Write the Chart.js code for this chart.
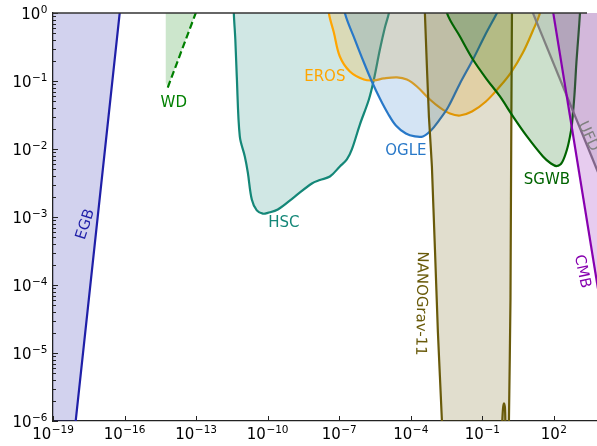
<!DOCTYPE html>
<html>
<head>
<meta charset="utf-8">
<script src="https://cdn.jsdelivr.net/npm/chart.js@4.4.0/dist/chart.umd.min.js"></script>
<style>
html, body { margin: 0; padding: 0; background: #fff; overflow: hidden; }
</style>
</head>
<body>
<canvas id="pbh" width="597" height="446"></canvas>
<script>
// axis ticks (PBH mass on x, fraction f on y); labels are powers of ten
const xTicks = [1e-19, 1e-16, 1e-13, 1e-10, 1e-7, 1e-4, 1e-1, 1e2];
const xTickExps = ['\u221219', '\u221216', '\u221213', '\u221210', '\u22127', '\u22124', '\u22121', '2'];
const yTicks = [1, 1e-1, 1e-2, 1e-3, 1e-4, 1e-5, 1e-6];
const yTickExps = ['0', '\u22121', '\u22122', '\u22123', '\u22124', '\u22125', '\u22126'];

// constraint curves (mass, fraction); ends run past the frame
const egbMass = [1e-21, 4.4e-19, 1.27e-16, 1e-21];
const egbFrac = [1e-7, 1e-7, 10, 10];

const wdAreaMass = [5.33e-15, 5.33e-15, 6.47e-15, 1.89e-13];
const wdAreaFrac = [1.87, 0.0951, 0.0802, 1.87];
const wdMass = [6.47e-15, 1.89e-13];
const wdFrac = [0.0802, 1.87];

const hscMass = [3.62e-12, 3.80e-12, 4.40e-12, 5.07e-12, 6.78e-12, 1.10e-11, 1.47e-11, 2.16e-11, 3.50e-11, 6.25e-11,
  1.01e-10, 2.66e-10, 1.37e-9, 7.11e-9, 1.54e-8, 4.05e-8, 1.06e-7, 2.09e-7, 3.38e-7, 7.33e-7,
  1.75e-6, 2.83e-6, 5.06e-6, 8.20e-6, 1.21e-5, 1.61e-5];
const hscFrac = [2.22, 1, 0.407, 0.116, 0.0153, 0.00776, 0.00451, 0.00181, 0.00125, 0.00112,
  0.00115, 0.00129, 0.00200, 0.00311, 0.00350, 0.00394, 0.00553, 0.00702, 0.00984, 0.0229,
  0.0535, 0.105, 0.290, 0.612, 1, 1.87];

const erosMass = [3.33e-8, 3.67e-8, 5.94e-8, 1.06e-7, 2.79e-7, 1.08e-6, 2.83e-6, 7.45e-6, 2.61e-5, 6.85e-5,
  1.80e-4, 6.32e-4, 1.66e-3, 4.37e-3, 1.15e-2, 3.66e-2, 0.141, 0.497, 1.58, 5.04, 13.2, 26.0, 34.8];
const erosFrac = [1.87, 1, 0.517, 0.229, 0.138, 0.105, 0.102, 0.109, 0.113, 0.105,
  0.083, 0.0535, 0.0407, 0.0333, 0.0311, 0.0356, 0.0500, 0.0802, 0.133, 0.262, 0.553, 1, 1.87];

const ogleMass = [1.42e-7, 1.72e-7, 4.52e-7, 1.08e-6, 2.33e-6, 5.06e-6, 1.10e-5, 2.37e-5, 6.22e-5, 1.49e-4,
  3.21e-4, 6.97e-4, 1.51e-3, 3.60e-3, 1.15e-2, 4.03e-2, 0.128, 0.409, 0.662];
const ogleFrac = [1.87, 1, 0.407, 0.187, 0.0984, 0.0553, 0.0333, 0.0222, 0.0169, 0.0153,
  0.0153, 0.0187, 0.0262, 0.0407, 0.0919, 0.207, 0.467, 1, 1.43];

const nanoMass = [3.72e-4, 3.90e-4, 4.73e-4, 5.74e-4, 6.97e-4, 7.67e-4, 1.03e-3, 1.37e-3, 2.02e-3, 2.12e-3,
  1.28, 1.30, 1.41, 1.51, 1.58, 1.66, 1.74, 1.74];
const nanoFrac = [1.87, 1, 0.163, 0.0301, 0.00984, 0.00553, 3.33e-4, 2.00e-5, 1e-6, 5.35e-7,
  5.35e-7, 1e-6, 8.02e-6, 6.12e-5, 1.81e-3, 0.0535, 1, 1.87];
const nanoSpikeMass = [0.662, 0.730, 0.804, 0.885, 0.929];
const nanoSpikeFrac = [8e-7, 1.48e-6, 1.81e-6, 1.58e-6, 8e-7];

const sgwbMass = [2.96e-3, 3.27e-3, 1.15e-2, 4.03e-2, 0.156, 0.547, 1.92, 7.41, 34.8, 75.3,
  134, 218, 353, 472, 573, 728, 883, 1072, 1239, 1300];
const sgwbFrac = [1.87, 1, 0.451, 0.207, 0.105, 0.0592, 0.0301, 0.0153, 0.00776, 0.00612,
  0.00562, 0.00633, 0.00984, 0.0153, 0.0237, 0.0633, 0.194, 0.483, 1, 1.43];

const ufdMass = [6.35, 22400, 1.07e6, 1.07e6];
const ufdFrac = [1.87, 1.69e-3, 1.69e-3, 1.87];

const cmbMass = [70.3, 22400, 1.07e6, 1.07e6];
const cmbFrac = [1.87, 7.25e-6, 7.25e-6, 1.87];

// curve names and where they sit
const curveLabels = [
  { text: 'EGB', x: 2.36e-18, y: 7.76e-4, color: 'rgb(31,31,168)', rot: -72 },
  { text: 'WD', x: 1.16e-14, y: 0.0467, color: '#008000', rot: 0 },
  { text: 'HSC', x: 4.75e-10, y: 8.02e-4, color: 'rgb(20,135,120)', rot: 0 },
  { text: 'EROS', x: 2.49e-8, y: 0.116, color: '#ffa500', rot: 0 },
  { text: 'OGLE', x: 6.22e-5, y: 0.00919, color: 'rgb(40,120,200)', rot: 0 },
  { text: 'NANOGrav-11', x: 2.65e-4, y: 5.35e-5, color: 'rgb(105,90,10)', rot: 91 },
  { text: 'SGWB', x: 51.2, y: 3.44e-3, color: 'rgb(0,100,0)', rot: 0 },
  { text: 'UFD', x: 2685, y: 0.0153, color: 'gray', rot: 65 },
  { text: 'CMB', x: 1503, y: 1.58e-4, color: 'rgb(135,0,175)', rot: 78 }
];

function pts(mass, frac) {
  return mass.map((m, i) => ({ x: m, y: frac[i] }));
}

function area(mass, frac, rgb, opts) {
  return Object.assign({
    data: pts(mass, frac),
    showLine: true,
    fill: 'shape',
    backgroundColor: 'rgba(' + rgb + ',0.2)',
    borderColor: 'rgb(' + rgb + ')',
    borderWidth: 2.2,
    tension: 0.35,
    pointRadius: 0
  }, opts || {});
}

const datasets = [
  area(egbMass, egbFrac, '31,31,168', { tension: 0 }),
  area(wdAreaMass, wdAreaFrac, '0,128,0', { borderWidth: 0, tension: 0 }),
  area(wdMass, wdFrac, '0,128,0', { fill: false, borderDash: [7, 3.5], tension: 0 }),
  area(hscMass, hscFrac, '20,135,120'),
  area(erosMass, erosFrac, '255,165,0'),
  area(ogleMass, ogleFrac, '40,120,200'),
  area(nanoMass, nanoFrac, '105,90,10', { tension: 0.001 }),
  area(nanoSpikeMass, nanoSpikeFrac, '105,90,10', { tension: 0.3 }),
  area(sgwbMass, sgwbFrac, '0,100,0'),
  area(ufdMass, ufdFrac, '128,128,128', { tension: 0 }),
  area(cmbMass, cmbFrac, '135,0,175', { tension: 0 })
];
datasets.forEach((d, i) => { d.order = datasets.length - i; });

// "10" with a raised exponent, mathtext style
function powLabel(ctx, exp, x, baseline, align) {
  ctx.font = '15px "DejaVu Sans"';
  const wBase = ctx.measureText('10').width;
  ctx.font = '10.5px "DejaVu Sans"';
  const wExp = ctx.measureText(exp).width;
  const total = wBase + wExp + 0.5;
  const left = align === 'center' ? x - total / 2 : x - total;
  ctx.font = '15px "DejaVu Sans"';
  ctx.fillText('10', left, baseline);
  ctx.font = '10.5px "DejaVu Sans"';
  ctx.fillText(exp, left + wBase + 0.5, baseline - 6);
}

const axisPlugin = {
  id: 'axisDressing',
  afterDatasetsDraw(chart) {
    const { ctx, chartArea: a, scales: { x, y } } = chart;
    ctx.save();
    ctx.strokeStyle = '#222';
    ctx.lineWidth = 1;
    ctx.beginPath();
    xTicks.forEach(v => {
      const px = Math.round(x.getPixelForValue(v)) + 0.5;
      ctx.moveTo(px, a.bottom);
      ctx.lineTo(px, a.bottom - 5);
    });
    for (let e = -6; e <= 0; e++) {
      for (let k = 1; k <= 9; k++) {
        const v = k * Math.pow(10, e);
        if (v > 1.0001) break;
        const py = Math.round(y.getPixelForValue(v)) + 0.5;
        ctx.moveTo(a.left, py);
        ctx.lineTo(a.left + (k === 1 ? 5 : 3), py);
      }
    }
    ctx.stroke();
    ctx.strokeStyle = '#333';
    ctx.lineWidth = 1.3;
    ctx.beginPath();
    ctx.moveTo(a.left, a.top);
    ctx.lineTo(587, a.top);
    ctx.stroke();

    ctx.fillStyle = '#000';
    ctx.textAlign = 'left';
    ctx.textBaseline = 'alphabetic';
    xTicks.forEach((v, i) => powLabel(ctx, xTickExps[i], x.getPixelForValue(v), a.bottom + 17.5, 'center'));
    yTicks.forEach((v, i) => powLabel(ctx, yTickExps[i], a.left - 5.5, y.getPixelForValue(v) + 6.3, 'right'));
    ctx.restore();
  }
};

const labelPlugin = {
  id: 'curveLabels',
  afterDatasetsDraw(chart) {
    const { ctx, scales: { x, y } } = chart;
    ctx.save();
    ctx.font = '15px "DejaVu Sans"';
    ctx.textAlign = 'center';
    ctx.textBaseline = 'middle';
    curveLabels.forEach(l => {
      ctx.save();
      ctx.translate(x.getPixelForValue(l.x), y.getPixelForValue(l.y));
      ctx.rotate(l.rot * Math.PI / 180);
      ctx.fillStyle = l.color;
      ctx.fillText(l.text, 0, 0);
      ctx.restore();
    });
    ctx.restore();
  }
};

new Chart(document.getElementById('pbh'), {
  type: 'scatter',
  data: { datasets: datasets },
  options: {
    responsive: false,
    animation: false,
    layout: { padding: { top: 13, right: 0, left: 0, bottom: 0 } },
    plugins: { legend: { display: false }, tooltip: { enabled: false } },
    elements: { point: { radius: 0 }, line: { capBezierPoints: false, borderJoinStyle: 'round' } },
    scales: {
      x: {
        type: 'logarithmic',
        position: 'bottom',
        min: 1e-19,
        max: 6.4e3,
        grid: { display: false },
        border: { display: true, color: '#222', width: 1.3 },
        afterBuildTicks: s => { s.ticks = xTicks.map(v => ({ value: v })); },
        afterFit: s => { s.height = 25; },
        ticks: { display: false }
      },
      y: {
        type: 'logarithmic',
        position: 'left',
        min: 1e-6,
        max: 1,
        grid: { display: false },
        border: { display: true, color: '#222', width: 1.3 },
        afterBuildTicks: s => { s.ticks = yTicks.map(v => ({ value: v })); },
        afterFit: s => { s.width = 53; },
        ticks: { display: false }
      }
    }
  },
  plugins: [axisPlugin, labelPlugin]
});
</script>
</body>
</html>
